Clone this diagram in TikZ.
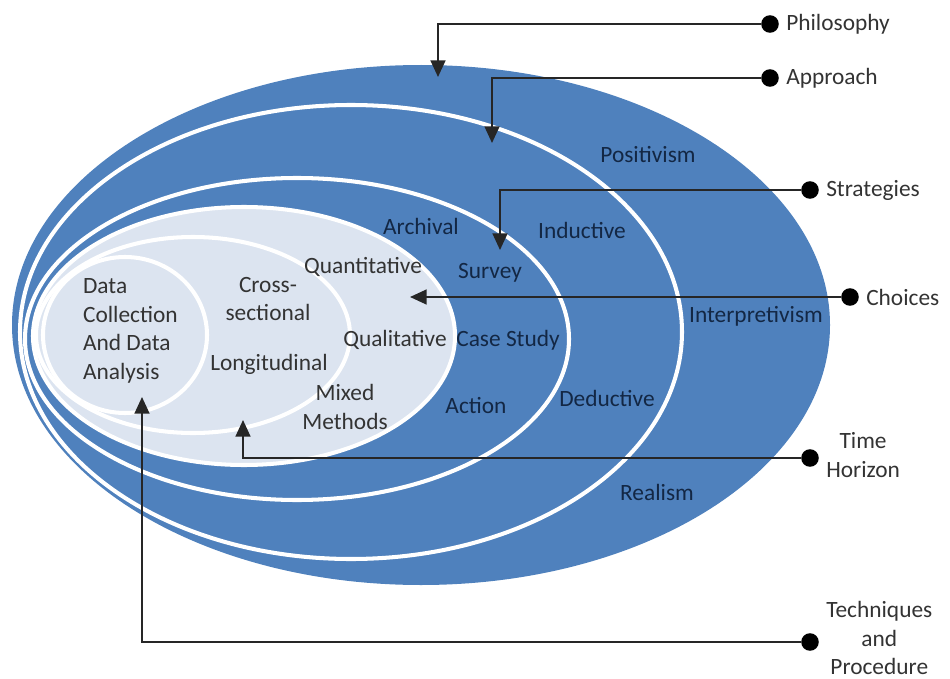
\documentclass[tikz,border=0pt]{standalone}
\usepackage{fontspec}
\setmainfont{Carlito}
\usepackage{tikz}
\usepackage{xcolor}
\usetikzlibrary{arrows.meta, positioning, calc}

\definecolor{ringblue}{HTML}{4F81BD}
\definecolor{paleblue}{HTML}{DCE4F0}
\definecolor{navytext}{HTML}{132744}
\definecolor{greytext}{HTML}{333333}

\begin{document}
\begin{tikzpicture}[x=0.02cm, y=-0.02cm,
    every node/.style={font=\fontsize{13.3}{16.2}\selectfont},
    ring/.style={draw=white, line width=2.3pt},
    bandtxt/.style={text=navytext, inner sep=1pt},
    innertxt/.style={text=greytext, inner sep=1pt},
    blackdot/.style={circle, fill=black, inner sep=0pt, minimum size=10pt},
    outtxt/.style={text=greytext, inner sep=1pt},
    conn/.style={draw=black!85, line width=1.1pt, -{Triangle[length=9.5pt, width=8.5pt]}}]
    \useasboundingbox (0,0) rectangle (950,679);

    % Onion layers
    \fill[ringblue] (421,325) ellipse [x radius=409, y radius=260];
    \draw[ring] (351,332) ellipse [x radius=331, y radius=227];
    \draw[ring] (297,339) ellipse [x radius=272, y radius=161];
    \draw[ring, fill=paleblue] (244,336) ellipse [x radius=211, y radius=129];
    \draw[ring] (193,335) ellipse [x radius=157, y radius=98];
    \draw[ring] (125,335) ellipse [x radius=82, y radius=78];

    % Philosophy band
    \node[bandtxt] (positivism) at (648,155) {Positivism};
    \node[bandtxt] (interpretivism) at (756,316) {Interpretivism};
    \node[bandtxt] (realism) at (657,492) {Realism};

    % Approach band
    \node[bandtxt] (inductive) at (582,230) {Inductive};
    \node[bandtxt] (deductive) at (607,398) {Deductive};

    % Strategies band
    \node[bandtxt] (archival) at (421,226) {Archival};
    \node[bandtxt] (survey) at (490,273) {Survey};
    \node[bandtxt] (casestudy) at (508,340) {Case Study};
    \node[bandtxt] (action) at (476,406) {Action};

    % Choices, time horizon, techniques
    \node[innertxt] (quantitative) at (363,267) {Quantitative};
    \node[innertxt] (qualitative) at (395,340) {Qualitative};
    \node[innertxt, align=center] (mixed) at (345,407) {Mixed\\Methods};
    \node[innertxt, align=center] (crosssec) at (268,299) {Cross-\\sectional};
    \node[innertxt] (longitudinal) at (269,364) {Longitudinal};
    \node[innertxt, align=left, anchor=west] (datacoll) at (81,331) {Data\\Collection\\And Data\\Analysis};

    % Layer labels
    \node[blackdot] (philDot) at (770,24) {};
    \node[outtxt, right=0.1cm of philDot] (philLbl) {Philosophy};
    \node[blackdot] (apprDot) at (770,78) {};
    \node[outtxt, right=0.1cm of apprDot] (apprLbl) {Approach};
    \node[blackdot] (stratDot) at (810,190) {};
    \node[outtxt, right=0.1cm of stratDot] (stratLbl) {Strategies};
    \node[blackdot] (choDot) at (850,297) {};
    \node[outtxt, right=0.1cm of choDot] (choLbl) {Choices};
    \node[blackdot] (timeDot) at (810,458) {};
    \node[outtxt, align=center, right=0.1cm of timeDot, yshift=0.06cm] (timeLbl) {Time\\Horizon};
    \node[blackdot] (techDot) at (810,642) {};
    \node[outtxt, align=center, right=0.1cm of techDot, yshift=0.08cm] (techLbl) {Techniques\\and\\Procedure};

    % Arrow ends
    \coordinate (philTip) at (438,77);
    \coordinate (apprTip) at (492,143);
    \coordinate (stratTip) at (500,250);
    \coordinate (choTip) at (410,297);
    \coordinate (timeTip) at (243,420);
    \coordinate (techTip) at (142,397);

    % Connectors
    \draw[conn] (philDot) -| (philTip);
    \draw[conn] (apprDot) -| (apprTip);
    \draw[conn] (stratDot) -| (stratTip);
    \draw[conn] (choDot) -- (choTip);
    \draw[conn] (timeDot) -| (timeTip);
    \draw[conn] (techDot) -| (techTip);
\end{tikzpicture}
\end{document}
